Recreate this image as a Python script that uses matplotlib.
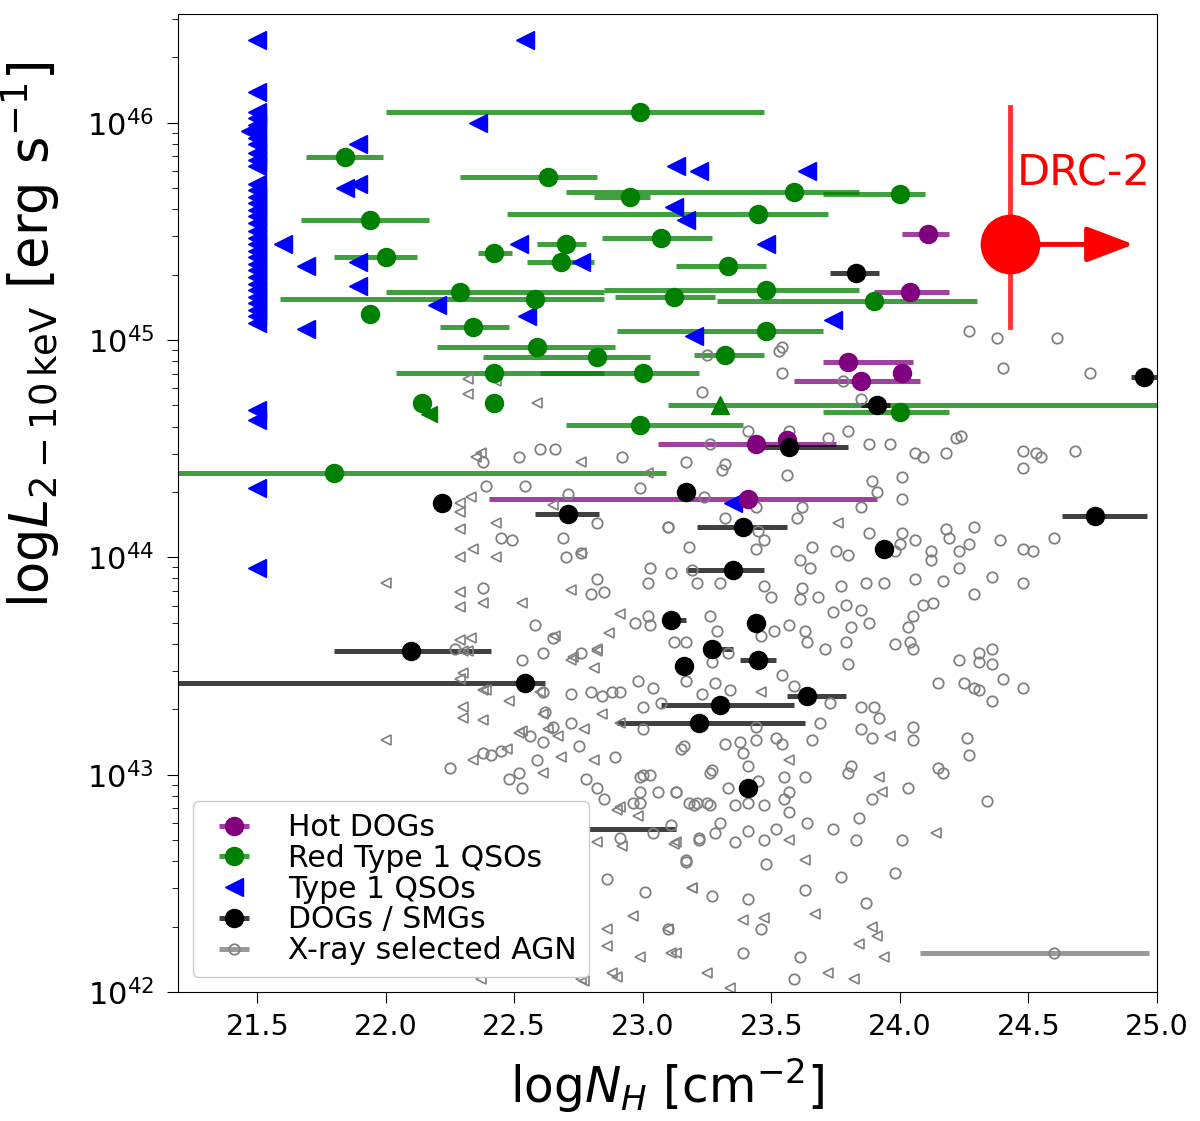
import numpy as np
import matplotlib.pyplot as plt
from matplotlib.colors import to_rgba

# ---- Type 1 QSOs (blue triangles) : logNH, logL
t1_nh = [21.5, 21.5, 21.5, 21.5, 21.5, 21.47, 21.5, 21.5, 21.5, 21.5, 21.5, 21.5, 21.5,
         21.5, 21.5, 21.5, 21.5, 21.5, 21.5, 21.5, 21.5, 21.5, 21.5, 21.5, 21.5, 21.5,
         21.5, 21.5, 21.5, 21.5, 21.5, 21.5, 21.5, 21.5, 21.5, 21.5, 21.5,
         22.54, 22.36, 21.89, 21.89, 21.84, 21.60, 21.69, 21.89, 21.89, 21.69, 22.20,
         22.55, 22.52, 22.76, 23.13, 23.22, 23.64, 23.12, 23.17, 23.48, 23.74, 23.20, 23.35]
t1_L = [46.38, 46.14, 46.05, 46.02, 45.99, 45.96, 45.93, 45.90, 45.86, 45.83, 45.80, 45.72,
        45.69, 45.66, 45.63, 45.60, 45.57, 45.54, 45.50, 45.47, 45.44, 45.41, 45.38, 45.35,
        45.32, 45.29, 45.26, 45.23, 45.20, 45.17, 45.14, 45.11, 45.08, 44.68, 44.63, 44.32, 43.95,
        46.38, 46.00, 45.90, 45.72, 45.70, 45.44, 45.34, 45.36, 45.25, 45.05, 45.16,
        45.11, 45.44, 45.36, 45.80, 45.78, 45.78, 45.61, 45.55, 45.44, 45.09, 45.02, 44.25]

# ---- Red Type 1 QSOs (green): logNH, logL, NH low, NH high
red_nh = [22.99, 21.84, 22.63, 22.95, 23.59, 24.00, 21.94, 23.45, 23.07, 22.70, 22.42, 22.00,
          22.68, 23.33, 22.29, 23.48, 23.12, 22.58, 23.90, 21.94, 22.34, 22.59, 23.48, 23.32,
          22.82, 22.42, 23.00, 22.14, 22.42, 22.99, 21.80, 24.00]
red_L = [46.05, 45.84, 45.75, 45.66, 45.68, 45.67, 45.55, 45.58, 45.47, 45.44, 45.40, 45.38,
         45.36, 45.34, 45.22, 45.23, 45.20, 45.19, 45.18, 45.12, 45.06, 44.97, 45.04, 44.93,
         44.92, 44.85, 44.85, 44.71, 44.71, 44.61, 44.39, 44.67]
red_lo = [22.00, 21.69, 22.29, 22.81, 22.70, 23.70, 21.67, 22.47, 22.84, 22.59, 22.36, 21.80,
          22.55, 23.13, 22.00, 22.85, 22.89, 21.59, 23.29, 21.94, 22.21, 22.20, 22.90, 23.20,
          22.38, 22.04, 22.60, 22.14, 22.42, 22.70, 21.00, 23.70]
red_hi = [23.47, 21.99, 22.82, 23.03, 23.84, 24.10, 22.17, 23.72, 23.27, 22.78, 22.49, 22.12,
          22.81, 23.48, 22.85, 23.84, 23.28, 22.85, 24.30, 21.94, 22.48, 22.89, 23.70, 23.47,
          23.03, 22.85, 23.22, 22.14, 22.42, 23.39, 23.09, 24.19]
red_tri = [23.30, 44.70, 23.10, 25.50]
red_lim = [22.17, 44.66]

# ---- Hot DOGs (purple)
hot_nh = [24.11, 24.04, 23.80, 24.01, 23.85, 23.44, 23.56, 23.41]
hot_L = [45.49, 45.22, 44.90, 44.85, 44.81, 44.52, 44.54, 44.27]
hot_lo = [24.01, 23.90, 23.70, 24.01, 23.59, 23.06, 23.56, 22.40]
hot_hi = [24.19, 24.19, 24.05, 24.01, 24.08, 23.75, 23.56, 23.91]

# ---- DOGs / SMGs (black)
dog_nh = [23.83, 24.95, 23.91, 23.57, 22.22, 22.71, 23.17, 23.39, 24.76, 23.94, 23.35, 23.11,
          23.44, 23.27, 23.45, 23.16, 23.64, 23.30, 23.22, 22.54, 22.10, 23.41, 22.40]
dog_L = [45.31, 44.83, 44.70, 44.51, 44.25, 44.20, 44.30, 44.14, 44.19, 44.04, 43.94, 43.71,
         43.70, 43.58, 43.53, 43.50, 43.36, 43.32, 43.24, 43.42, 43.57, 42.94, 42.75]
dog_lo = [23.73, 24.90, 23.85, 23.46, 22.22, 22.58, 23.17, 23.21, 24.63, 23.94, 23.17, 23.11,
          23.44, 23.27, 23.38, 23.16, 23.56, 23.07, 22.90, 21.00, 21.80, 23.41, 22.00]
dog_hi = [23.92, 25.00, 23.96, 23.80, 22.22, 22.83, 23.17, 23.56, 24.96, 23.94, 23.47, 23.17,
          23.44, 23.35, 23.52, 23.16, 23.79, 23.59, 23.63, 22.62, 22.41, 23.41, 23.13]

# ---- X-ray selected AGN, detections (open circles)
xa_nh = [24.27, 24.38, 24.61, 23.54, 23.25, 23.53, 23.54, 24.40, 24.74, 23.78, 23.23, 23.85,
         23.41, 23.57, 23.72, 23.80, 23.26, 23.88, 23.96, 24.06, 24.09, 24.18, 24.22, 24.24,
         24.48, 24.53, 24.55, 24.68, 24.48, 23.17, 23.32, 23.31, 23.56, 23.89, 24.01, 23.91,
         24.01, 23.24, 23.44, 23.62, 23.85, 23.60, 23.32, 23.10, 23.45, 23.47, 23.44, 23.18,
         23.88, 24.01, 24.00, 24.06, 24.18, 24.19, 24.29, 24.27, 24.23, 24.39, 24.48, 24.52,
         24.60, 24.12, 24.12, 23.66, 23.75, 23.80, 23.61, 23.65, 23.98, 24.23, 23.11, 23.19,
         23.21, 23.30, 23.47, 23.50, 23.62, 23.61, 23.68, 23.77, 23.87, 23.94, 24.06, 24.17,
         24.36, 24.29, 24.48, 24.09, 24.13, 23.74, 23.79, 23.85, 23.88, 23.81, 24.05, 24.03,
         24.04, 24.05, 23.98, 23.79, 23.71, 23.64, 23.63, 23.57, 23.51, 23.46, 23.29, 23.26,
         23.17, 23.12, 23.33, 24.23, 24.31, 24.36, 24.31, 24.36, 23.80,
         24.15, 24.25, 24.29, 24.31, 24.40, 24.48, 24.36, 23.17, 23.28, 23.34, 23.23, 23.54,
         23.59, 23.73, 23.85, 23.90, 23.92, 23.69, 23.44, 23.85, 23.89, 24.05, 24.05, 24.26,
         24.27, 23.66, 23.52, 23.54, 23.44, 23.32, 23.38, 23.39, 23.16, 23.27, 23.41, 23.45,
         23.33, 23.55, 23.63, 23.81, 23.80, 24.15, 24.17, 24.03, 23.89, 23.57, 23.55, 23.13,
         23.20, 23.26, 23.36, 23.41, 23.47, 23.57, 23.84, 24.34, 23.30, 23.28, 23.22, 23.36,
         23.41, 23.47, 23.52, 23.64, 23.74, 23.83, 24.01, 23.17, 23.48, 23.77, 23.98, 23.27,
         23.41, 23.63, 23.87, 23.46, 23.10, 23.39, 23.61, 23.59,
         22.38, 22.52, 22.60, 22.66, 22.92, 22.39, 22.54, 22.71, 22.99, 22.82, 23.10, 22.45,
         22.49, 22.69, 22.70, 22.76, 23.03, 23.02, 22.82, 22.80, 22.85, 22.38, 22.58, 22.65,
         22.61, 22.76, 22.97, 23.02, 23.03, 22.27, 22.53,
         22.72, 22.80, 22.84, 22.88, 22.91, 22.61, 22.98, 23.04, 23.07, 23.00, 22.62, 22.65,
         22.72, 22.56, 22.61, 22.75, 22.89, 23.00, 23.15, 22.25, 22.38, 22.41, 22.45, 22.59,
         22.52, 23.00, 23.03, 23.27,
         22.99, 22.99, 23.06, 22.99, 22.86, 23.01, 22.53, 22.48, 22.78, 22.82, 22.85,
         23.26, 22.96, 23.13, 23.18, 23.21, 23.25, 23.04, 23.11, 23.22, 23.17, 22.91]
xa_L = [45.04, 45.01, 45.01, 44.97, 44.93, 44.95, 44.85, 44.87, 44.85, 44.81, 44.76, 44.73,
        44.58, 44.58, 44.55, 44.58, 44.52, 44.52, 44.52, 44.48, 44.46, 44.48, 44.55, 44.56,
        44.49, 44.48, 44.46, 44.49, 44.41, 44.44, 44.43, 44.40, 44.38, 44.35, 44.37, 44.30,
        44.27, 44.28, 44.23, 44.23, 44.23, 44.18, 44.18, 44.14, 44.12, 44.08, 44.04, 44.05,
        44.11, 44.11, 44.06, 44.08, 44.13, 44.09, 44.14, 44.06, 44.03, 44.08, 44.04, 44.03,
        44.09, 44.03, 43.99, 44.05, 44.03, 44.01, 43.99, 43.95, 44.03, 43.95, 43.93, 43.94,
        43.88, 43.88, 43.87, 43.82, 43.86, 43.81, 43.82, 43.87, 43.88, 43.88, 43.90, 43.89,
        43.91, 43.83, 43.88, 43.78, 43.79, 43.75, 43.78, 43.76, 43.70, 43.68, 43.73, 43.68,
        43.61, 43.58, 43.60, 43.61, 43.58, 43.61, 43.66, 43.69, 43.66, 43.64, 43.66, 43.73,
        43.61, 43.61, 43.56, 43.53, 43.56, 43.58, 43.52, 43.51, 43.51,
        43.42, 43.42, 43.40, 43.39, 43.44, 43.40, 43.34, 43.43, 43.42, 43.39, 43.37, 43.46,
        43.41, 43.33, 43.31, 43.31, 43.26, 43.24, 43.22, 43.21, 43.17, 43.22, 43.16, 43.17,
        43.09, 43.16, 43.17, 43.14, 43.16, 43.14, 43.15, 43.10, 43.13, 43.02, 43.04, 42.97,
        42.94, 42.99, 42.99, 43.04, 43.01, 43.03, 43.01, 42.94, 42.89, 42.92, 42.89, 42.92,
        42.86, 42.86, 42.86, 42.87, 42.86, 42.83, 42.80, 42.88, 42.78, 42.73, 42.70, 42.69,
        42.74, 42.70, 42.75, 42.78, 42.75, 42.70, 42.70, 42.60, 42.59, 42.53, 42.55, 42.44,
        42.43, 42.47, 42.41, 42.29, 42.29, 42.18, 42.16, 42.06,
        44.44, 44.46, 44.50, 44.50, 44.46, 44.33, 44.33, 44.29, 44.32, 44.16, 44.14, 44.09,
        44.08, 44.09, 44.00, 44.02, 43.95, 43.88, 43.90, 43.83, 43.84, 43.86, 43.69, 43.63,
        43.56, 43.56, 43.70, 43.73, 43.69, 43.58, 43.53,
        43.37, 43.38, 43.36, 43.38, 43.38, 43.38, 43.43, 43.40, 43.33, 43.31, 43.29, 43.22,
        43.24, 43.18, 43.15, 43.13, 43.08, 43.21, 43.12, 43.03, 43.10, 43.09, 43.11, 43.07,
        43.01, 43.00, 43.00, 43.52,
        42.99, 42.92, 42.92, 42.87, 42.52, 42.46, 42.94, 42.98, 42.98, 42.94, 42.89,
        43.01, 42.87, 42.92, 42.87, 42.87, 42.87, 42.73, 42.77, 42.71, 42.61, 42.71]

# ---- X-ray selected AGN, upper limits (open left triangles)
xu_nh = [23.76, 23.57, 23.96, 23.57, 23.12, 23.92, 23.93, 24.14, 23.63, 23.19, 23.67, 23.39,
         23.47, 23.89, 23.91, 23.84, 23.94, 23.13, 23.25, 23.72, 23.82, 23.34, 23.46,
         22.32, 22.32, 22.43, 22.59, 22.35, 22.37, 22.76, 23.02, 22.29, 22.33, 22.29, 22.29,
         22.43, 22.29, 22.34, 22.43, 22.65, 22.76, 22.00, 22.29, 22.29, 22.38, 22.53, 22.72,
         22.91, 22.87, 22.82, 22.72, 22.29, 22.32, 22.66,
         22.48, 22.38, 22.30, 22.30, 22.38, 22.60, 22.61, 22.67, 22.77, 22.52, 22.84, 22.91,
         22.47, 22.34, 22.68, 22.81, 22.61, 22.82, 22.81, 22.73, 22.30, 22.33, 22.30,
         22.29, 22.39, 22.00, 22.53, 22.63, 22.91, 22.98, 22.96, 22.99, 22.88, 22.76, 22.86,
         22.86, 23.11, 23.10, 22.82, 22.92, 22.90, 23.13, 23.19, 22.77, 22.90, 22.37]
xu_L = [44.16, 43.07, 43.18, 42.70, 42.68, 42.99, 42.92, 42.73, 42.61, 42.48, 42.36, 42.33,
        42.34, 42.30, 42.26, 42.22, 42.16, 42.18, 42.09, 42.09, 42.06, 42.02, 43.38,
        44.82, 44.75, 44.81, 44.71, 44.46, 44.48, 44.44, 44.39, 44.25, 44.28, 44.21, 44.13,
        44.16, 44.00, 44.04, 44.00, 44.24, 44.02, 43.88, 43.84, 43.77, 43.79, 43.79, 43.85,
        43.74, 43.65, 43.57, 43.53, 43.62, 43.57, 43.64,
        43.34, 43.39, 43.31, 43.26, 43.25, 43.38, 43.28, 43.18, 43.21, 43.19, 43.28, 43.24,
        43.12, 43.07, 43.08, 43.07, 43.01, 43.58, 43.49, 43.54, 43.47, 43.63, 43.57,
        43.44, 43.39, 43.16, 43.20, 43.21, 42.85, 42.81, 42.35, 42.16, 42.09, 42.06, 42.29,
        42.21, 42.18, 42.29, 42.69, 42.67, 42.84, 42.69, 42.48, 42.05, 42.07, 42.06]

# representative error of the X-ray sample
rep = [24.60, 42.18, 24.08, 24.97]

# DRC-2
drc_nh, drc_L, drc_Llo, drc_Lhi, drc_arrow = 24.43, 45.44, 45.06, 46.07, 24.91


def xerr(x, lo, hi):
    x, lo, hi = np.array(x), np.array(lo), np.array(hi)
    return [x - lo, hi - x]


fig = plt.figure(figsize=(12, 11.21), dpi=100)
ax = fig.add_axes([0.148, 0.115, 0.816, 0.8725])

eb = dict(fmt='o', ms=13, elinewidth=3.6, capsize=0, ls='none')

h_hot = ax.errorbar(hot_nh, 10**np.array(hot_L), xerr=xerr(hot_nh, hot_lo, hot_hi),
                    color='purple', ecolor=to_rgba('purple', 0.75), **eb)
h_red = ax.errorbar(red_nh, 10**np.array(red_L), xerr=xerr(red_nh, red_lo, red_hi),
                    color='green', ecolor=to_rgba('green', 0.75), **eb)
ax.errorbar([red_tri[0]], [10**red_tri[1]], xerr=[[red_tri[0] - red_tri[2]], [red_tri[3] - red_tri[0]]],
            fmt='^', ms=13, elinewidth=3.6, capsize=0, color='green', ecolor=to_rgba('green', 0.75))
ax.plot([red_lim[0]], [10**red_lim[1]], '<', color='green', ms=11)
h_t1, = ax.plot(t1_nh, 10**np.array(t1_L), '<', color='blue', ms=13, ls='none')
h_dog = ax.errorbar(dog_nh, 10**np.array(dog_L), xerr=xerr(dog_nh, dog_lo, dog_hi),
                    color='black', ecolor=to_rgba('black', 0.75), **eb)

ax.plot(xa_nh, 10**np.array(xa_L), 'o', mfc='none', mec='grey', ms=7.5, mew=1.3, ls='none')
ax.plot(xu_nh, 10**np.array(xu_L), '<', mfc='none', mec='grey', ms=7, mew=1.2, ls='none')
h_xa = ax.errorbar([rep[0]], [10**rep[1]], xerr=[[rep[0] - rep[2]], [rep[3] - rep[0]]],
                   fmt='o', mfc='none', mec='grey', ms=7.5, mew=1.3, color='grey',
                   ecolor=to_rgba('grey', 0.8), elinewidth=3.6, capsize=0)

# DRC-2
ax.plot([drc_nh, drc_nh], [10**drc_Llo, 10**drc_Lhi], color='red', lw=3.5, alpha=0.8)
ax.annotate('', xy=(drc_arrow, 10**drc_L), xytext=(drc_nh, 10**drc_L),
            arrowprops=dict(arrowstyle='-|>,head_length=1.45,head_width=0.55', color='red',
                            lw=3.5, mutation_scale=20, shrinkA=0, shrinkB=0))
ax.plot([drc_nh], [10**drc_L], 'o', color='red', ms=42)
ax.text(24.455, 10**45.71, 'DRC-2', color='red', fontsize=31, ha='left', va='baseline')

ax.set_yscale('log')
ax.set_xlim(21.19, 25.0)
ax.set_ylim(1e42, 10**46.5)
ax.set_xticks(np.arange(21.5, 25.01, 0.5))
ax.tick_params(axis='x', labelsize=20.5, length=8, pad=7)
ax.tick_params(axis='y', which='major', labelsize=22, length=8, pad=9)
ax.tick_params(axis='y', which='minor', length=4.5)
ax.set_xlabel(r'$\mathrm{log}N_H$ [cm$^{-2}$]', fontsize=35, labelpad=11)
ax.set_ylabel(r'$\mathrm{log}L_{2-10\,\mathrm{keV}}$ [erg s$^{-1}$]', fontsize=38)
ax.yaxis.set_label_coords(-0.118, 0.672)

ax.legend([h_hot, h_red, h_t1, h_dog, h_xa],
          ['Hot DOGs', 'Red Type 1 QSOs', 'Type 1 QSOs', 'DOGs / SMGs', 'X-ray selected AGN'],
          loc='lower left', fontsize=21.5, labelspacing=0.06, framealpha=1)

plt.savefig('out.png', dpi=100)
